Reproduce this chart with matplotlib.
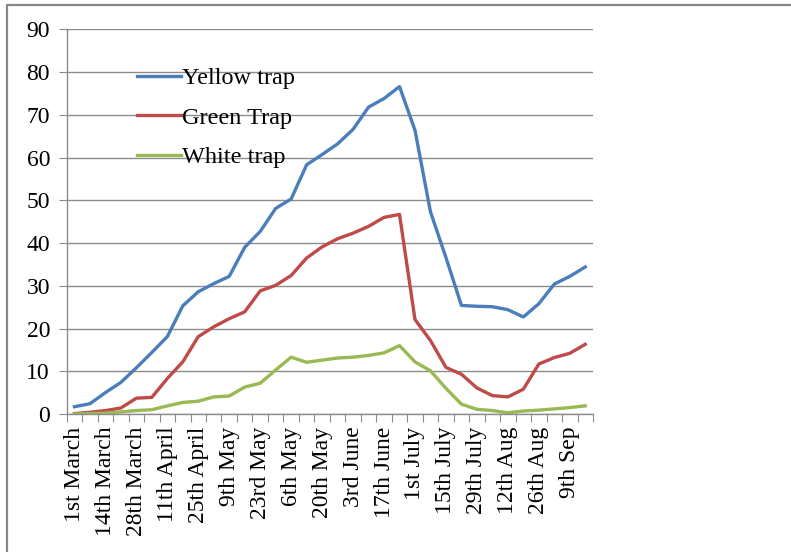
import numpy as np
import matplotlib
matplotlib.use('Agg')
import matplotlib.pyplot as plt
from matplotlib.lines import Line2D

# weekly trap counts, one value per sampling date (34 dates)
yellow_trap = [1.7, 2.4, 5.0, 7.4, 10.8, 14.4, 18.1, 25.3, 28.6, 30.5, 32.2, 39.0, 42.7,
               48.1, 50.3, 58.3, 60.7, 63.2, 66.6, 71.8, 73.8, 76.6, 66.4, 47.3, 36.6,
               25.4, 25.2, 25.1, 24.4, 22.7, 25.8, 30.4, 32.2, 34.4]
green_trap = [0.1, 0.4, 0.8, 1.4, 3.7, 3.9, 8.3, 12.2, 18.1, 20.4, 22.3, 23.9, 28.8,
              30.1, 32.4, 36.5, 39.1, 41.0, 42.3, 43.9, 46.0, 46.7, 22.1, 17.2, 10.9,
              9.3, 6.1, 4.3, 4.0, 5.8, 11.7, 13.2, 14.2, 16.3]
white_trap = [0.0, 0.1, 0.2, 0.5, 0.8, 1.0, 1.9, 2.7, 3.0, 4.0, 4.2, 6.3, 7.2, 10.3,
              13.3, 12.1, 12.6, 13.1, 13.3, 13.7, 14.3, 16.0, 12.2, 10.1, 6.0, 2.3,
              1.1, 0.8, 0.3, 0.7, 0.9, 1.2, 1.5, 1.9]

# every second date gets a label
date_labels = ['1st March', '14th March', '28th March', '11th April', '25th April',
               '9th May', '23rd May', '6th May', '20th May', '3rd June', '17th June',
               '1st July', '15th July', '29th July', '12th Aug', '26th Aug', '9th Sep']

plt.rcParams['font.family'] = ['Liberation Serif', 'DejaVu Serif']

fig = plt.figure(figsize=(7.91, 5.52), dpi=100)
ax = fig.add_axes([0.0843, 0.25, 0.6654, 0.6969])

x = np.arange(len(yellow_trap))
ax.plot(x, yellow_trap, color='#4a7ebb', lw=2.4, label='Yellow trap', solid_joinstyle='round')
ax.plot(x, green_trap, color='#be4b48', lw=2.4, label='Green Trap', solid_joinstyle='round')
ax.plot(x, white_trap, color='#98b954', lw=2.4, label='White trap', solid_joinstyle='round')

ax.set_xlim(-0.5, len(x) - 0.5)
ax.set_ylim(0, 90)
ax.set_yticks(np.arange(0, 91, 10))
ax.yaxis.grid(True, color='#8c8c8c', lw=1.0)
ax.set_axisbelow(True)

# tick marks sit between categories, labels on the categories
ax.set_xticks(np.arange(-0.5, len(x)))
ax.set_xticklabels([])
ax.set_xticks(x[::2], minor=True)
ax.set_xticklabels(date_labels, minor=True, rotation=90, fontsize=17)
ax.tick_params(axis='x', which='major', length=6, color='#8c8c8c', direction='out')
ax.tick_params(axis='x', which='minor', length=0, pad=9)
ax.tick_params(axis='y', length=6, color='#8c8c8c', labelsize=17, pad=6)

for side in ['top', 'right']:
    ax.spines[side].set_visible(False)
for side in ['left', 'bottom']:
    ax.spines[side].set_color('#8c8c8c')
    ax.spines[side].set_linewidth(1.0)

ax.legend(loc='upper left', bbox_to_anchor=(0.1336, 0.902), frameon=False, fontsize=17.5,
          borderpad=0, borderaxespad=0, handlelength=1.8, handletextpad=0.05,
          labelspacing=0.72)

# outer frame
fig.add_artist(Line2D([0.0085, 0.0085, 1.0], [0.0, 0.9905, 0.9905],
                      transform=fig.transFigure, color='#878787', lw=1.6))

fig.savefig('out.png', dpi=100)
